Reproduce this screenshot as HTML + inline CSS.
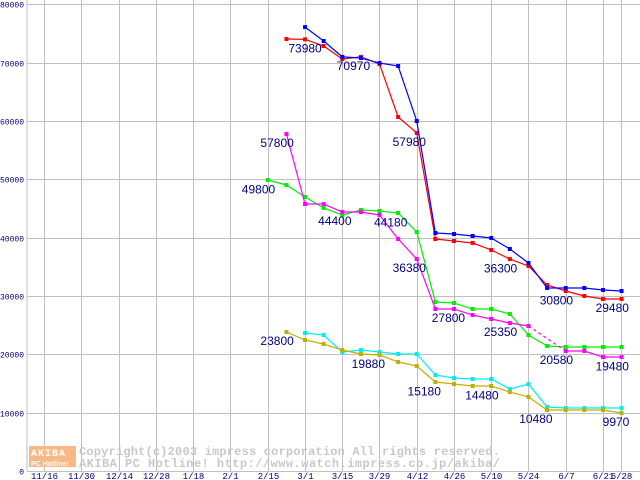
<!DOCTYPE html>
<html><head><meta charset="utf-8"><style>
body{margin:0;background:#fff;}
svg{display:block;font-family:"Liberation Sans",sans-serif;}
</style></head><body>
<svg id="chart" width="640" height="480" xmlns="http://www.w3.org/2000/svg">
<g id="grid"></g>
<g id="ylabels"></g>
<g id="xlabels"></g>
<g>
<rect x="29" y="446" width="47" height="21" fill="#f8b888"/>
<text x="31" y="456" font-size="10" font-weight="bold" fill="#fff" font-family="Liberation Mono, monospace" letter-spacing="1">AKIBA</text>
<text x="31" y="466" font-size="7" font-weight="bold" fill="#fff">PC Hotline!</text>
<text x="79" y="455" font-size="12" font-weight="bold" fill="#c8c8c8" font-family="Liberation Mono, monospace" textLength="421">Copyright(c)2003 impress corporation All rights reserved.</text>
<text x="79" y="467" font-size="12" font-weight="bold" fill="#c8c8c8" font-family="Liberation Mono, monospace" textLength="421">AKIBA PC Hotline!  http://www.watch.impress.co.jp/akiba/</text>
</g>
<g id="series"></g>
<g id="labels"></g>
</svg>
<script>
const xTickLabels = ["11/16","11/30","12/14","12/28","1/18","2/1","2/15","3/1","3/15","3/29","4/12","4/26","5/10","5/24","6/7","6/21","6/28"];
const yTicks = [0,10000,20000,30000,40000,50000,60000,70000,80000];
const redValues = [null,74060,74000,72860,70630,71000,69770,60690,57950,39770,39430,39090,37890,36340,35140,31890,30860,30000,29490,29490];
const blueValues = [null,null,76100,73720,71000,70800,69940,69430,60000,40800,40630,40290,39950,38060,35660,31370,31370,31370,31030,30860];
const greenValues = [49890,49030,46970,45090,43890,44750,44570,44230,40970,28970,28800,27770,27770,26910,23310,21430,21260,21260,21260,21260];
const magentaValues = [null,57770,45770,45770,44400,44400,43890,39770,36340,27770,27770,26740,26060,25370,24860,null,20570,20570,19540,19540];
const cyanValues = [null,null,23660,23310,20400,20740,20400,20060,20060,16460,15940,15770,15770,14060,14910,10970,10800,10800,10800,10800];
const oliveValues = [null,23830,22460,21770,20740,20060,19890,18690,18000,15260,14910,14570,14570,13540,12690,10460,10460,10460,10460,9940];
const annotationTexts = ["73980","70970","57980","57800","49800","44400","44180","36380","36300","27800","25350","30800","29480","20580","19480","23800","19880","15180","14480","10480","9970"];
const annotationWeeks = [2,4.6,7.6,0.5,-0.5,3.6,6.6,7.6,12.5,9.7,12.5,15.5,18.5,15.5,18.5,0.5,5.4,8.4,11.5,14.4,18.7];
const annotationValues = [73980,70970,57980,57800,49800,44400,44180,36380,36300,27800,25350,30800,29480,20580,19480,23800,19880,15180,14480,10480,9970];

const NS="http://www.w3.org/2000/svg";
const yScale = v => 471 - v*0.005833;
const xTickPos = i => i<16 ? 44 + 37.25*i : 621;
const xWeek = i => 267.8 + 18.62*i;
function mk(tag, attrs, parent){const e=document.createElementNS(NS,tag);for(const k in attrs)e.setAttribute(k,attrs[k]);parent.appendChild(e);return e;}
const grid=document.getElementById('grid');
let ax=mk('line',{x1:27,y1:0,x2:27,y2:471,stroke:'#c0c0c0'},grid);


yTicks.forEach(v=>{
  const y=Math.round(yScale(v))+0.5;
  const l=mk('line',{x1:27,y1:y,x2:640,y2:y,stroke:'#c0c0c0'},grid);
  
  
  const t=mk('text',{x:24,y:y+3,'font-size':8,'text-anchor':'end',fill:'#000080','font-family':'Liberation Mono, monospace'},document.getElementById('ylabels'));
  t.textContent=v;
  
  
});
xTickLabels.forEach((s,i)=>{
  const x=Math.round(xTickPos(i))+0.5;
  const l=mk('line',{x1:x,y1:0,x2:x,y2:471,stroke:'#c0c0c0'},grid);
  
  
  const t=mk('text',{x:x,y:479,'font-size':9,'text-anchor':'middle',fill:'#000080','font-family':'Liberation Mono, monospace'},document.getElementById('xlabels'));
  t.textContent=s;
  
  
});
const seriesList=[[redValues,'#ff0000','red-series'],[blueValues,'#0000ff','blue-series'],[greenValues,'#00ee00','green-series'],[magentaValues,'#ff00ff','magenta-series'],[cyanValues,'#00eeee','cyan-series'],[oliveValues,'#c0b000','olive-series']];
const sg=document.getElementById('series');
seriesList.forEach(([vals,col,name])=>{
  const g=mk('g',{},sg);
  
  
  let prev=-1;
  vals.forEach((v,i)=>{
    if(v===null)return;
    if(prev>=0){
      const seg=mk('line',{x1:xWeek(prev),y1:yScale(vals[prev]),x2:xWeek(i),y2:yScale(v),stroke:col,'stroke-width':1.2},g);
      if(i-prev>1)seg.setAttribute('stroke-dasharray','3,3');
      
      
    }
    prev=i;
  });
  vals.forEach((v,i)=>{
    if(v===null)return;
    const r=mk('rect',{x:xWeek(i)-2,y:yScale(v)-2,width:4,height:4,fill:col},g);
    
    
  });
});
const lg=document.getElementById('labels');
annotationTexts.forEach((s,i)=>{
  const t=mk('text',{x:xWeek(annotationWeeks[i]),y:yScale(annotationValues[i])+13,'font-size':12,'text-anchor':'middle',fill:'#000080'},lg);
  t.textContent=s;
  
  
});
</script>
</body></html>
